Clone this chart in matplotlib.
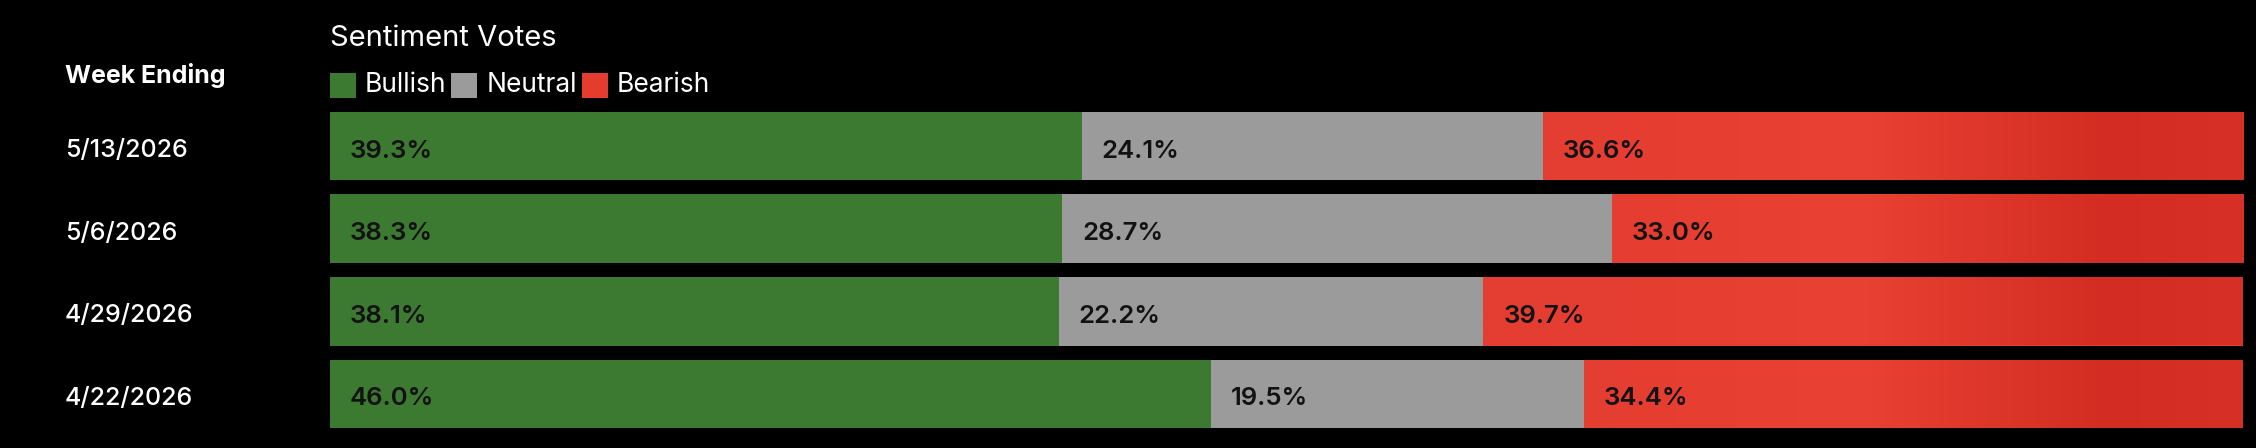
import matplotlib
matplotlib.use('Agg')
import matplotlib.pyplot as plt
import numpy as np
from matplotlib.patches import Rectangle
from matplotlib.transforms import blended_transform_factory

# ---- data ----
weeks = ['5/13/2026', '5/6/2026', '4/29/2026', '4/22/2026']
bullish = [39.3, 38.3, 38.1, 46.0]
neutral = [24.1, 28.7, 22.2, 19.5]
bearish = [36.6, 33.0, 39.7, 34.4]
series_names = ['Bullish', 'Neutral', 'Bearish']
title = 'Sentiment Votes'
row_header = 'Week Ending'

# ---- style ----
plt.rcParams['font.family'] = ['Inter', 'DejaVu Sans']
W, H = 2256, 448
GREEN = '#3d7a31'
GREY = '#9b9b9b'
RED = '#e43d30'
colors = [GREEN, GREY, RED]
FS = 18

fig = plt.figure(figsize=(W / 100, H / 100), dpi=100, facecolor='black')

bar_top_px, bar_bot_px = 112, 428
ax = fig.add_axes([329.5 / W, 1 - bar_bot_px / H, (2243 - 329.5) / W, (bar_bot_px - bar_top_px) / H])
ax.set_facecolor('black')
ax.axis('off')

n = len(weeks)
ypos = np.arange(n)
bh = 68.5 / 82.5
ylim = (n - 1 + bh / 2, -bh / 2)

b = np.array(bullish)
nu = np.array(neutral)
be = np.array(bearish)
tot = b + nu + be
bs, ns, rs = b / tot * 100, nu / tot * 100, be / tot * 100

ax.barh(ypos, bs, height=bh, color=GREEN, linewidth=0)
ax.barh(ypos, ns, left=bs, height=bh, color=GREY, linewidth=0)
red_bars = ax.barh(ypos, rs, left=bs + ns, height=bh, color=RED, linewidth=0)

# subtle horizontal gradient on bearish segments
stops_x = [0, 64, 80, 93, 100]
stops_c = np.array([(228, 61, 49), (228, 61, 49), (233, 65, 51), (211, 44, 34), (215, 49, 39)]) / 255
gx = np.linspace(0, 100, 600)
grad = np.stack([np.interp(gx, stops_x, stops_c[:, k]) for k in range(3)], axis=-1)[None, :, :]
for rect, yi in zip(red_bars, ypos):
    im = ax.imshow(grad, extent=[0, 100, yi + bh / 2, yi - bh / 2], aspect='auto',
                   interpolation='bilinear', zorder=rect.get_zorder() + 0.1)
    im.set_clip_path(rect)

ax.set_xlim(0, 100)
ax.set_ylim(*ylim)

# segment labels
for i in range(n):
    lefts = [0, bs[i], bs[i] + ns[i]]
    vals = [bullish[i], neutral[i], bearish[i]]
    for l, v in zip(lefts, vals):
        ax.annotate(f'{v:.1f}%', xy=(l, ypos[i]), xytext=(20, -11.5), textcoords='offset pixels',
                    ha='left', va='baseline', fontsize=18.5, color='#121212', fontweight='semibold',
                    zorder=5)

# date labels
trans = blended_transform_factory(fig.transFigure, ax.transData)
for i, wk in enumerate(weeks):
    ax.annotate(wk, xy=(65 / W, ypos[i]), xycoords=trans, xytext=(0, -11), textcoords='offset pixels',
                ha='left', va='baseline', fontsize=FS, color='white', fontweight='medium',
                annotation_clip=False)

# header texts
fig.text(65 / W, 1 - 82.7 / H, row_header, ha='left', va='baseline', fontsize=FS,
         color='white', fontweight='bold')
fig.text(330 / W, 1 - 46 / H, title, ha='left', va='baseline', fontsize=21,
         color='white', fontweight='normal')

# legend (manual, measured)
renderer = fig.canvas.get_renderer()
x = 330.0
for name, col in zip(series_names, colors):
    fig.patches.append(Rectangle((x / W, 1 - 98 / H), 26 / W, 25 / H, transform=fig.transFigure,
                                 facecolor=col, edgecolor='none'))
    t = fig.text((x + 35) / W, 1 - 92 / H, name, ha='left', va='baseline', fontsize=19,
                 color='white')
    w = t.get_window_extent(renderer).width
    x = x + 35 + w + 5

fig.savefig('out.png', dpi=100, facecolor='black')
